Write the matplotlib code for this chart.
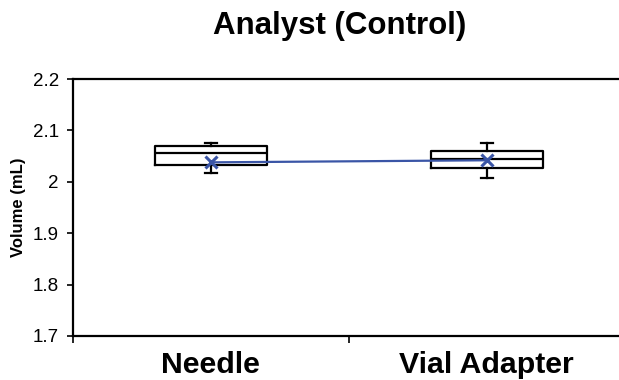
import numpy as np
import matplotlib
matplotlib.use('Agg')
import matplotlib.pyplot as plt

plt.rcParams['font.family'] = ['Liberation Sans', 'DejaVu Sans']

# values
categories = ['Needle', 'Vial Adapter']
whisker_low = [2.017, 2.007]
q1 = [2.033, 2.027]
median = [2.056, 2.045]
q3 = [2.070, 2.061]
whisker_high = [2.076, 2.076]
mean = [2.038, 2.042]


def main():
    fig = plt.figure(figsize=(6.19, 3.80), dpi=100)
    ax = fig.add_axes([0.1175, 0.1158, 0.892, 0.676])

    pos = np.arange(1, len(categories) + 1)
    stats = []
    for i in range(len(categories)):
        stats.append({'whislo': whisker_low[i], 'q1': q1[i], 'med': median[i],
                      'q3': q3[i], 'whishi': whisker_high[i], 'fliers': []})

    ax.bxp(stats, positions=pos, widths=0.405, capwidths=0.045, showfliers=False,
           boxprops=dict(color='black', linewidth=1.6),
           medianprops=dict(color='black', linewidth=1.6),
           whiskerprops=dict(color='black', linewidth=1.6),
           capprops=dict(color='black', linewidth=1.6))

    # mean line
    ax.plot(pos, mean, color='#3A55A6', linewidth=1.6, marker='x',
            markersize=8, markeredgewidth=2.2, zorder=5)

    ax.set_xlim(0.5, 2.5)
    ax.set_ylim(1.7, 2.2)
    ax.set_yticks(np.arange(1.7, 2.21, 0.1))
    ax.set_yticklabels(['1.7', '1.8', '1.9', '2', '2.1', '2.2'], fontsize=13.5)
    ax.tick_params(axis='y', direction='out', length=4, width=1.2, pad=6)

    ax.set_xticks(pos)
    ax.set_xticklabels(categories, fontsize=21.8, fontweight='bold')
    ax.tick_params(axis='x', length=0, pad=11)
    ax.set_xticks([0.5, 1.5, 2.5], minor=True)
    ax.tick_params(axis='x', which='minor', direction='out', length=5, width=1.2)

    for s in ['left', 'bottom', 'top', 'right']:
        ax.spines[s].set_linewidth(1.6)
        ax.spines[s].set_color('black')

    ax.set_ylabel('Volume (mL)', fontsize=12, fontweight='bold', labelpad=5)

    fig.text(340 / 619, 1 - 26 / 380, 'Analyst (Control)', fontsize=22.5,
             fontweight='bold', ha='center', va='center')

    fig.savefig('out.png', dpi=100)


if __name__ == '__main__':
    main()
